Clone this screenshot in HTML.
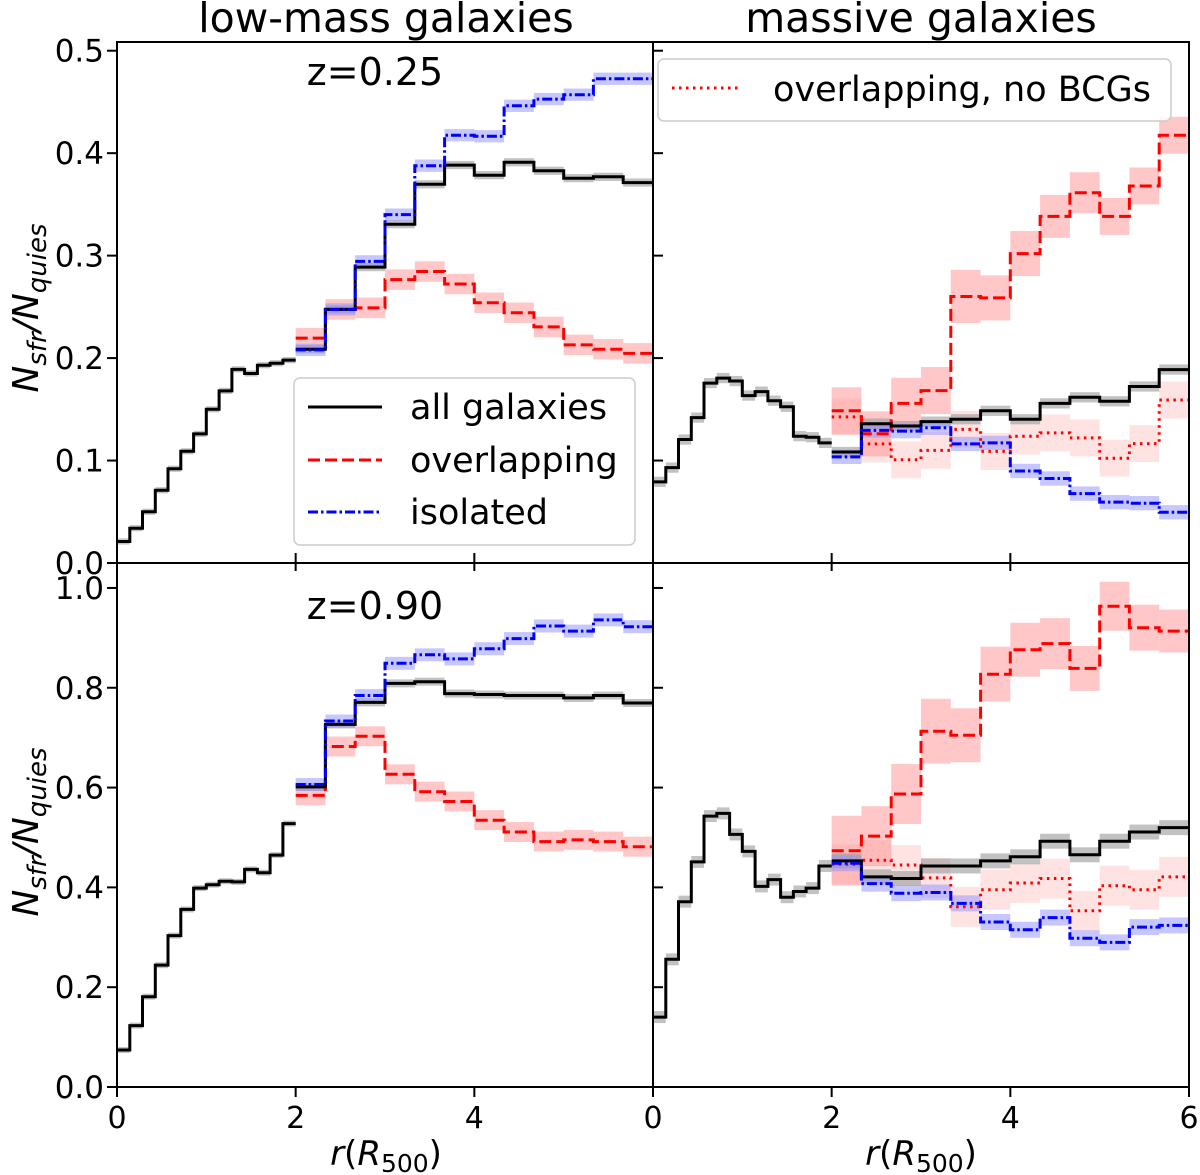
<!DOCTYPE html>
<html><head><meta charset="utf-8"><style>
body{margin:0;background:#fff}
svg{display:block;font-family:"DejaVu Sans","Liberation Sans",sans-serif}
</style></head><body>
<svg id="chart" width="1200" height="1175" viewBox="0 0 1200 1175" xmlns="http://www.w3.org/2000/svg">
<g id="bands"></g><g id="lines"></g><g id="axes"></g>
</svg>
<script>
// ---- data ----
const innerEdgesN = 14;           // bins 0..2
const outerEdgesN = 12;           // bins 2..6
const xTicks = [0, 2, 4, 6];
const yTicksTop = [0.0, 0.1, 0.2, 0.3, 0.4, 0.5];
const yTicksBot = [0.0, 0.2, 0.4, 0.6, 0.8, 1.0];

// top-left (low-mass, z=0.25)
const tlAllInner = [0.021,0.034,0.050,0.071,0.092,0.109,0.126,0.150,0.168,0.189,0.185,0.193,0.195,0.198];
const tlAll = [0.2086,0.2475,0.2888,0.3307,0.3696,0.3884,0.3785,0.3911,0.3828,0.3756,0.3769,0.3713];
const tlIso = [0.208,0.2475,0.2944,0.340,0.3878,0.4175,0.4165,0.4462,0.4528,0.4571,0.4726,0.4726];
const tlOver = [0.2195,0.2475,0.249,0.2766,0.2845,0.2723,0.254,0.2442,0.2304,0.2129,0.2086,0.2046];
// top-right (massive, z=0.25)
const trAllInner = [0.0792,0.0931,0.1205,0.1419,0.1756,0.1805,0.1776,0.1634,0.1673,0.1584,0.1525,0.1238,0.1228,0.1172];
const trAll = [0.1083,0.136,0.1337,0.138,0.1403,0.1485,0.1403,0.1558,0.1617,0.1578,0.1723,0.1888];
const trOver = [0.1485,0.1261,0.1558,0.1683,0.2601,0.2587,0.302,0.3383,0.3614,0.3383,0.368,0.4175];
const trOverErr = [0.023,0.022,0.025,0.023,0.026,0.022,0.022,0.021,0.02,0.018,0.018,0.018];
const trNoBCG = [0.1426,0.1162,0.1007,0.1099,0.1304,0.1089,0.1238,0.127,0.1221,0.1023,0.1165,0.1591];
const trIso = [0.1036,0.1294,0.1287,0.132,0.1162,0.1172,0.0898,0.0825,0.0677,0.0594,0.0584,0.0495];
// bottom-left (low-mass, z=0.90)
const blAllInner = [0.0741,0.1231,0.181,0.2442,0.3034,0.3558,0.3986,0.4054,0.4122,0.4109,0.436,0.4293,0.4646,0.5279];
const blAll = [0.6014,0.7265,0.7707,0.8088,0.8122,0.7884,0.7864,0.7844,0.7844,0.7796,0.7844,0.7694];
const blIso = [0.6061,0.7333,0.7844,0.849,0.866,0.8578,0.8782,0.8986,0.9238,0.9136,0.936,0.9224];
const blOver = [0.5844,0.6823,0.7027,0.6265,0.5918,0.5721,0.5347,0.5109,0.4918,0.4952,0.4918,0.4816];
// bottom-right (massive, z=0.90)
const brAllInner = [0.1401,0.2558,0.3714,0.451,0.5429,0.5483,0.5061,0.4721,0.402,0.4156,0.3803,0.3918,0.3986,0.4429];
const brAll = [0.4531,0.4211,0.4177,0.4429,0.4429,0.4531,0.4612,0.4925,0.4653,0.4925,0.5109,0.5197];
const brOver = [0.4735,0.5027,0.5871,0.7129,0.7048,0.8272,0.8762,0.8884,0.8388,0.9633,0.9204,0.9136];
const brOverErr = [0.07,0.06,0.06,0.065,0.054,0.055,0.054,0.051,0.045,0.049,0.046,0.043];
const brNoBCG = [0.4463,0.4544,0.4449,0.4190,0.3612,0.3952,0.4088,0.4177,0.3531,0.4034,0.3952,0.4211];
const brIso = [0.4483,0.4075,0.3884,0.3898,0.368,0.3306,0.315,0.3395,0.298,0.2898,0.3204,0.3238];

// ---- layout ----
const NS = 'http://www.w3.org/2000/svg';
const panels = {
  tl:{x0:117,x1:653,y0:42,y1:563,ymax:0.5085},
  tr:{x0:653,x1:1189,y0:42,y1:563,ymax:0.5085},
  bl:{x0:117,x1:653,y0:563,y1:1087,ymax:1.05},
  br:{x0:653,x1:1189,y0:563,y1:1087,ymax:1.05}
};
function sx(p,v){return p.x0+(p.x1-p.x0)*v/6;}
function sy(p,v){return p.y1-(p.y1-p.y0)*v/p.ymax;}
function mk(tag,attrs,parent){const e=document.createElementNS(NS,tag);for(const k in attrs)e.setAttribute(k,attrs[k]);(parent||document.getElementById('lines')).appendChild(e);return e;}
function edges(inner,i){return inner? [2*i/innerEdgesN,2*(i+1)/innerEdgesN] : [2+4*i/outerEdgesN,2+4*(i+1)/outerEdgesN];}
const COL={black:'#000',red:'#ff0000',blue:'#0000ff'};
const DASH={solid:'',dash:'12,5',dashdot:'10,3,2.5,3',dot:'2.5,4.5'};
function band(p,vals,errs,inner,fill,op,name){
  const g=document.getElementById('bands');
  vals.forEach((v,i)=>{const [a,b]=edges(inner,i);const e=Array.isArray(errs)?errs[i]:errs;
    const r=mk('rect',{x:sx(p,a),y:sy(p,v+e),width:sx(p,b)-sx(p,a),height:sy(p,v-e)-sy(p,v+e),fill:fill,'fill-opacity':op},g);
    
    
  });
}
function step(p,vals,inner,color,dash,name){
  let d='';
  vals.forEach((v,i)=>{const [a,b]=edges(inner,i);
    if(i===0) d+='M'+sx(p,a).toFixed(1)+' '+sy(p,v).toFixed(1);
    else d+=' V'+sy(p,v).toFixed(1);
    d+=' H'+sx(p,b).toFixed(1);});
  const el=mk('path',{d:d,fill:'none',stroke:color,'stroke-width':3,'stroke-dasharray':DASH[dash]});
  
  
}
function series(p,vals,inner,err,bandFill,bandOp,color,dash,name){band(p,vals,err,inner,bandFill,bandOp,name);step(p,vals,inner,color,dash,name);}

const G='#999', R='#ff9090', B='#9090ff';
series(panels.tl,tlAllInner,true,0.003,G,0.6,'#000','solid','tl-all-inner-line');
series(panels.tl,tlOver,false,0.01,R,0.5,COL.red,'dash','tl-overlapping-line');
series(panels.tl,tlAll,false,0.004,G,0.6,'#000','solid','tl-all-line');
series(panels.tl,tlIso,false,0.006,B,0.5,COL.blue,'dashdot','tl-isolated-line');
series(panels.tr,trAllInner,true,0.005,G,0.6,'#000','solid','tr-all-inner-line');
series(panels.tr,trOver,false,trOverErr,R,0.5,COL.red,'dash','tr-overlapping-line');
series(panels.tr,trNoBCG,false,0.018,R,0.25,COL.red,'dot','tr-nobcg-line');
series(panels.tr,trAll,false,0.005,G,0.6,'#000','solid','tr-all-line');
series(panels.tr,trIso,false,0.007,B,0.5,COL.blue,'dashdot','tr-isolated-line');
series(panels.bl,blAllInner,true,0.006,G,0.6,'#000','solid','bl-all-inner-line');
series(panels.bl,blOver,false,0.02,R,0.5,COL.red,'dash','bl-overlapping-line');
series(panels.bl,blAll,false,0.008,G,0.6,'#000','solid','bl-all-line');
series(panels.bl,blIso,false,0.013,B,0.5,COL.blue,'dashdot','bl-isolated-line');
series(panels.br,brAllInner,true,0.012,G,0.6,'#000','solid','br-all-inner-line');
series(panels.br,brOver,false,brOverErr,R,0.5,COL.red,'dash','br-overlapping-line');
series(panels.br,brNoBCG,false,0.04,R,0.25,COL.red,'dot','br-nobcg-line');
series(panels.br,brAll,false,0.015,G,0.6,'#000','solid','br-all-line');
series(panels.br,brIso,false,0.016,B,0.5,COL.blue,'dashdot','br-isolated-line');

// ---- axes ----
const ax=document.getElementById('axes');
for(const k in panels){const p=panels[k];
  const fr=mk('rect',{x:p.x0,y:p.y0,width:p.x1-p.x0,height:p.y1-p.y0,fill:'none',stroke:'#000','stroke-width':2},ax);
  
  
  const yt=(k[0]==='t')?yTicksTop:yTicksBot;
  const left=(k[1]==='l');
  yt.forEach(v=>{const y=sy(p,v);
    if(left){mk('line',{x1:p.x0-10,x2:p.x0,y1:y,y2:y,stroke:'#000','stroke-width':2},ax);
      const t=mk('text',{x:p.x0-13,y:y+11,'text-anchor':'end','font-size':31},ax);t.textContent=v.toFixed(1);
      
      
    } else mk('line',{x1:p.x0,x2:p.x0+10,y1:y,y2:y,stroke:'#000','stroke-width':2},ax);
  });
  xTicks.forEach(v=>{const x=sx(p,v);
    if(k[0]==='t'){mk('line',{x1:x,x2:x,y1:p.y1-10,y2:p.y1,stroke:'#000','stroke-width':2},ax);}
    else{mk('line',{x1:x,x2:x,y1:p.y1,y2:p.y1+10,stroke:'#000','stroke-width':2},ax);
      mk('line',{x1:x,x2:x,y1:p.y0,y2:p.y0+8,stroke:'#000','stroke-width':2},ax);
      if(!(k==='bl'&&v===6)){const t=mk('text',{x:x,y:p.y1+41,'text-anchor':'middle','font-size':30},ax);t.textContent=String(v);
      
      }
    }
  });
}
</script>
<script>
(function(){
const svg=document.getElementById('chart');
svg.insertAdjacentHTML('beforeend',`
<text x="386" y="32" text-anchor="middle" font-size="41">low-mass galaxies</text>
<text x="921" y="32" text-anchor="middle" font-size="41">massive galaxies</text>
<text x="375" y="85" text-anchor="middle" font-size="38">z=0.25</text>
<text x="375" y="619" text-anchor="middle" font-size="38">z=0.90</text>
<g transform="translate(38,308) rotate(-90)"><text text-anchor="middle" font-size="36" font-style="italic">N<tspan font-size="26" dy="8">sfr</tspan><tspan dy="-8">/N</tspan><tspan font-size="26" dy="8">quies</tspan></text></g>
<g transform="translate(38,832) rotate(-90)"><text text-anchor="middle" font-size="36" font-style="italic">N<tspan font-size="26" dy="8">sfr</tspan><tspan dy="-8">/N</tspan><tspan font-size="26" dy="8">quies</tspan></text></g>
<text x="386" y="1165" text-anchor="middle" font-size="34"><tspan font-style="italic">r</tspan>(<tspan font-style="italic">R</tspan><tspan font-size="25" dy="7">500</tspan><tspan dy="-7">)</tspan></text>
<text x="921" y="1165" text-anchor="middle" font-size="34"><tspan font-style="italic">r</tspan>(<tspan font-style="italic">R</tspan><tspan font-size="25" dy="7">500</tspan><tspan dy="-7">)</tspan></text>
<g>
<rect x="294" y="378" width="341" height="167" rx="6" fill="#fff" fill-opacity="0.85" stroke="#ccc" stroke-width="1.5"/>
<g><line x1="308" y1="407" x2="382" y2="407" stroke="#000" stroke-width="3"/><text x="410" y="419" font-size="35">all galaxies</text></g>
<g><line x1="308" y1="460" x2="382" y2="460" stroke="#f00" stroke-width="3" stroke-dasharray="12,5"/><text x="410" y="472" font-size="35">overlapping</text></g>
<g><line x1="308" y1="512" x2="382" y2="512" stroke="#00f" stroke-width="3" stroke-dasharray="10,3,2.5,3"/><text x="410" y="524" font-size="35">isolated</text></g>
</g>
<g>
<rect x="658" y="59" width="513" height="62" rx="6" fill="#fff" fill-opacity="0.85" stroke="#ccc" stroke-width="1.5"/>
<line x1="672" y1="88" x2="742" y2="88" stroke="#f00" stroke-width="3" stroke-dasharray="2.5,4.5"/>
<text x="773" y="101" font-size="35">overlapping, no BCGs</text>
</g>`);
})();
</script>
</body></html>
